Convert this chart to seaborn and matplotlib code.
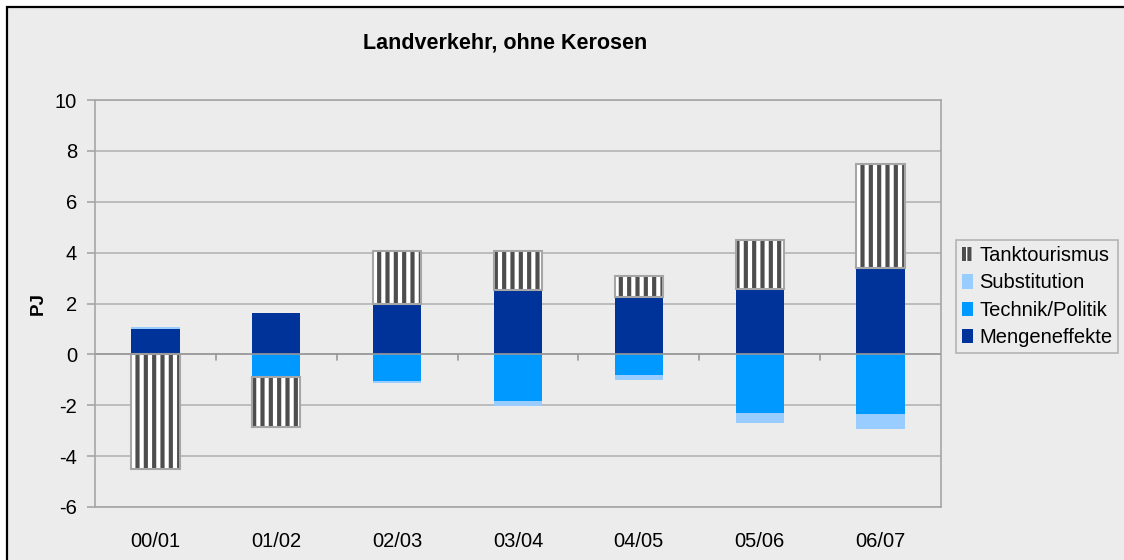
import numpy as np
import pandas as pd
import matplotlib
matplotlib.use("Agg")
import matplotlib.pyplot as plt
import seaborn as sns
from matplotlib.patches import Rectangle

# Daten (PJ)
perioden = ["00/01", "01/02", "02/03", "03/04", "04/05", "05/06", "06/07"]
mengeneffekte = [1.0, 1.62, 1.97, 2.55, 2.26, 2.57, 3.41]
technik_politik = [0.0, -0.87, -1.05, -1.85, -0.83, -2.32, -2.36]
substitution = [0.07, 0.0, -0.08, -0.18, -0.19, -0.36, -0.58]
tanktourismus = [-4.5, -2.0, 2.1, 1.5, 0.84, 1.92, 4.07]

serien = ["Mengeneffekte", "Technik/Politik", "Substitution", "Tanktourismus"]
werte = [mengeneffekte, technik_politik, substitution, tanktourismus]
farben = ["#003399", "#0099FF", "#99CCFF", "white"]

bg = "#ECECEC"
grau = "#A6A6A6"

sns.set_theme(style="white")
plt.rcParams["font.family"] = ["Liberation Sans", "DejaVu Sans"]
plt.rcParams["text.color"] = "black"
plt.rcParams["axes.labelcolor"] = "black"
plt.rcParams["axes.unicode_minus"] = False
plt.rcParams["hatch.linewidth"] = 3.0
plt.rcParams["hatch.color"] = "#4D4D4D"

fig = plt.figure(figsize=(11.24, 5.6), dpi=100, facecolor="white")
# Rahmen des Diagrammbereichs (rechts/unten abgeschnitten)
fig.patches.append(Rectangle((7 / 1124, -0.1), 1.2, 1 - 7 / 560 + 0.1,
                             transform=fig.transFigure, facecolor=bg,
                             edgecolor="black", lw=1.6, zorder=-10))
ax = fig.add_axes([95 / 1124, 1 - 507 / 560, (941 - 95) / 1124, (507 - 100) / 560])
ax.set_facecolor(bg)

df = pd.DataFrame(dict(zip(serien, werte)), index=perioden)
pos_bottom = np.zeros(len(perioden))
neg_bottom = np.zeros(len(perioden))
handles = []
for name, farbe in zip(serien, farben):
    v = df[name].to_numpy()
    bottom = np.where(v >= 0, pos_bottom, neg_bottom)
    kw = dict(linewidth=0)
    if name == "Tanktourismus":
        kw = dict(hatch="||", edgecolor="#4D4D4D", linewidth=0)
    sns.barplot(x=perioden, y=v, bottom=bottom, color=farbe, saturation=1,
                width=0.4, errorbar=None, order=perioden, ax=ax, zorder=3, **kw)
    cont = ax.containers[-1]
    if name == "Tanktourismus":
        for p in cont:
            if p.get_height() != 0:
                ax.add_patch(Rectangle(p.get_xy(), p.get_width(), p.get_height(),
                                       fill=False, edgecolor=grau, lw=1.5, zorder=4))
        handles.append(Rectangle((0, 0), 1, 1, facecolor="white", edgecolor="#4D4D4D",
                                 hatch="|||", lw=0, label=name))
    else:
        handles.append(Rectangle((0, 0), 1, 1, facecolor=farbe, lw=0, label=name))
    pos_bottom = pos_bottom + np.where(v >= 0, v, 0)
    neg_bottom = neg_bottom + np.where(v < 0, v, 0)

ax.set_ylim(-6, 10)
ax.set_xlim(-0.5, len(perioden) - 0.5)
ax.set_yticks(np.arange(-6, 11, 2))
ax.yaxis.grid(True, color="#B4B4B4", lw=1.2, zorder=0)
ax.set_axisbelow(True)
ax.axhline(0, color="#999999", lw=1.2, zorder=5)
for xb in np.arange(0.5, len(perioden) - 0.5):
    ax.plot([xb, xb], [0, -0.24], color="#999999", lw=1.2, zorder=5)

for s in ax.spines.values():
    s.set_visible(True)
    s.set_color(grau)
    s.set_linewidth(1.2)
ax.tick_params(axis="y", left=True, length=6, color=grau, width=1.2, labelsize=14.5,
               pad=7, labelcolor="black")
ax.tick_params(axis="x", bottom=False, labelsize=14.5, pad=12, labelcolor="black")
ax.set_xlabel("")
ax.set_ylabel("PJ", fontsize=13.5, fontweight="bold", labelpad=6, color="black")

fig.text(505 / 1124, 1 - 43 / 560, "Landverkehr, ohne Kerosen", fontsize=15.5,
         fontweight="bold", ha="center", va="center", color="black")

leg = fig.legend(handles=handles[::-1], loc="upper left",
                 bbox_to_anchor=(956 / 1124, 1 - 240 / 560), frameon=True,
                 fontsize=14.5, handlelength=0.55, handleheight=0.7,
                 handletextpad=0.3, labelspacing=0.42, borderpad=0.3,
                 borderaxespad=0, fancybox=False)
for t in leg.get_texts():
    t.set_color("black")
leg.get_frame().set_facecolor(bg)
leg.get_frame().set_edgecolor(grau)
leg.get_frame().set_linewidth(1.2)

fig.savefig("out.png", dpi=100, facecolor="white")
